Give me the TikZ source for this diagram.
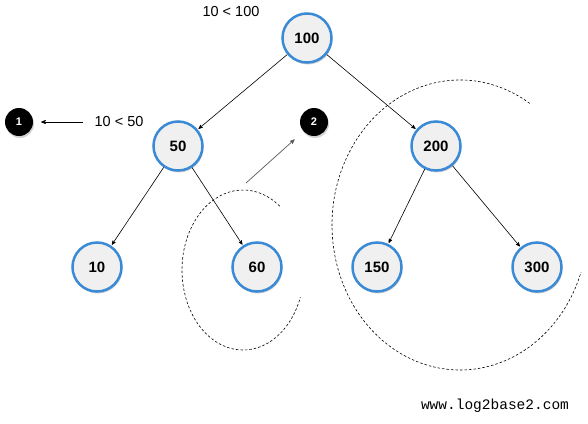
\documentclass[tikz,border=0pt]{standalone}
\usepackage{fontspec}
\setmainfont{Liberation Sans}
\setmonofont{Liberation Mono}
\usepackage{tikz}
\usetikzlibrary{arrows,shadows}
\definecolor{nodeblue}{HTML}{3A8AD6}
\definecolor{nodefill}{HTML}{F0F0F0}

\begin{document}
\begin{tikzpicture}[x=1pt,y=-1pt,->,>=stealth',shorten >=1pt,auto,
                    main node/.style={circle,draw=nodeblue,fill=nodefill,line width=2.5pt,
                      minimum size=49pt,inner sep=0pt,font=\bfseries\fontsize{15}{17}\selectfont,
                      drop shadow={opacity=0.35,shadow xshift=1pt,shadow yshift=-2pt}},
                    black node/.style={circle,fill=black,text=white,minimum size=28pt,inner sep=0pt,
                      font=\bfseries\fontsize{11}{13}\selectfont,
                      drop shadow={opacity=0.35,shadow xshift=1pt,shadow yshift=-2pt}},
                    note/.style={font=\fontsize{14.5}{16}\selectfont},
                    circ/.style={-,shorten >=0pt,dash pattern=on 2.5pt off 2pt,line width=0.6pt}]
  \useasboundingbox (0,0) rectangle (588,423);

  \node[main node] (100) at (307,38)  {100};
  \node[main node] (50)  at (178,146) {50};
  \node[main node] (200) at (436,146) {200};
  \node[main node] (10)  at (97,267)  {10};
  \node[main node] (60)  at (257,267) {60};
  \node[main node] (150) at (377,267) {150};
  \node[main node] (300) at (537,267) {300};

  \node[black node] (b1) at (19,122)  {1};
  \node[black node] (b2) at (314,122) {2};

  \node[note] (lt100) at (231,12)  {10 < 100};
  \node[note] (lt50)  at (119,122) {10 < 50};
  \coordinate (go2) at (246,183);

  % search path hints
  \draw[shorten <=8pt,shorten >=8pt,line width=0.7pt] (lt50.west) -- (b1);
  \draw[gray!70!black,shorten >=12pt,line width=0.7pt] (go2) -- (b2);

  \path[line width=0.6pt]
    (100) edge (50)
    (100) edge (200)
    (50)  edge (10)
    (50)  edge (60)
    (200) edge (150)
    (200) edge (300);

  % skipped subtrees
  \draw[circ] (243,270) ++(-53:61 and 80)
    arc[start angle=-53,end angle=-340,x radius=61,y radius=80];
  \draw[circ] (460,225) ++(-57:128 and 145)
    arc[start angle=-57,end angle=-341,x radius=128,y radius=145];

  \node[font=\ttfamily\fontsize{14.5}{16}\selectfont] (site) at (495,406) {www.log2base2.com};
\end{tikzpicture}
\end{document}
